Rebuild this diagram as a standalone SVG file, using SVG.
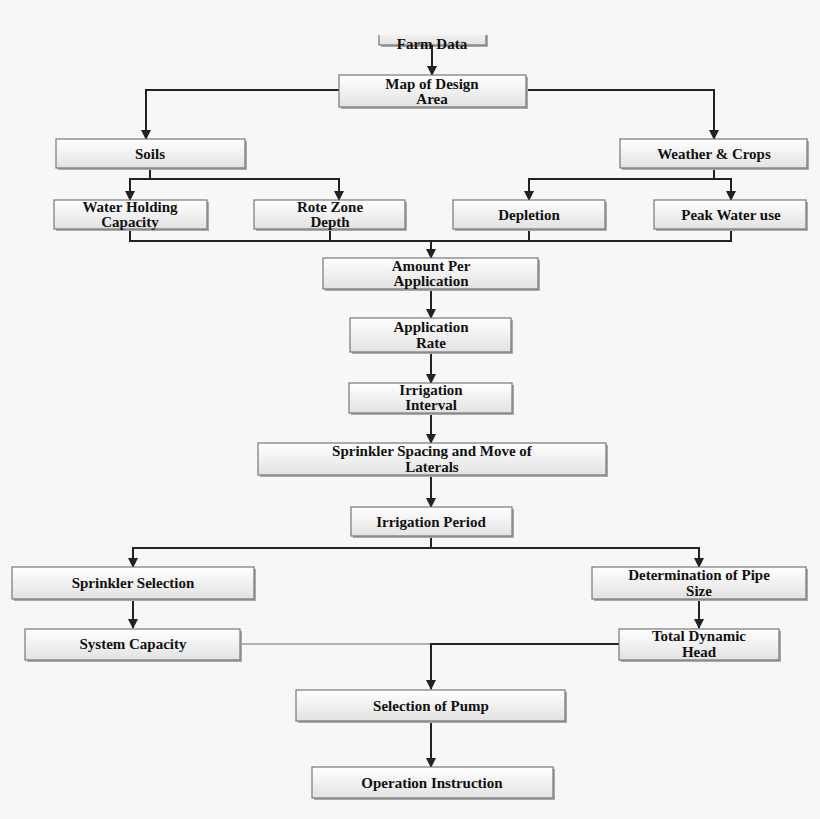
<svg xmlns="http://www.w3.org/2000/svg" width="820" height="819" viewBox="0 0 820 819">
<defs>
<linearGradient id="g" x1="0" y1="0" x2="0" y2="1"><stop offset="0" stop-color="#ffffff"/><stop offset="1" stop-color="#e2e2e2"/></linearGradient>
<marker id="a" markerWidth="10" markerHeight="10" refX="9" refY="5" orient="auto" markerUnits="userSpaceOnUse"><path d="M0,0 L10,5 L0,10 z" fill="#222"/></marker>
</defs>
<style>
rect.b{fill:url(#g);stroke:#777;stroke-width:1.2}
rect.s{fill:#aaa}
text{font-family:"Liberation Serif",serif;font-weight:bold;font-size:15px;fill:#111;text-anchor:middle}
.c path{fill:none;stroke:#222;stroke-width:2}
</style>
<rect width="820" height="819" fill="#f7f7f7"/>
<g id="farm"><rect class="s" x="381" y="28" width="107" height="19"/><rect class="b" x="379" y="26" width="107" height="19"/><text x="432" y="49">Farm Data</text><rect x="370" y="0" width="130" height="35" fill="#f7f7f7"/></g>
<g class="c" id="connectors">
<path d="M432,45 V75" marker-end="url(#a)"/>
<path d="M339,90 H146 V139" marker-end="url(#a)"/>
<path d="M526,90 H714 V139" marker-end="url(#a)"/>
<path d="M150,168 V179 H130 V200" marker-end="url(#a)"/>
<path d="M150,179 H339 V200" marker-end="url(#a)"/>
<path d="M714,168 V179 H529 V200" marker-end="url(#a)"/>
<path d="M714,179 H731 V200" marker-end="url(#a)"/>
<path d="M130,229 V241 H731 V229 M330,229 V241 M529,229 V241"/>
<path d="M431,241 V258" marker-end="url(#a)"/>
<path d="M431,289 V318" marker-end="url(#a)"/>
<path d="M431,352 V383" marker-end="url(#a)"/>
<path d="M431,413 V443" marker-end="url(#a)"/>
<path d="M431,475 V507" marker-end="url(#a)"/>
<path d="M431,536 V548 H133 V567" marker-end="url(#a)"/>
<path d="M431,548 H699 V567" marker-end="url(#a)"/>
<path d="M133,599 V628" marker-end="url(#a)"/>
<path d="M699,599 V628" marker-end="url(#a)"/>
<path d="M240,644 H431" style="stroke:#999;stroke-width:1.5"/>
<path d="M619,644 H431 V689" marker-end="url(#a)"/>
<path d="M431,721 V767" marker-end="url(#a)"/>
</g>
<g id="map"><rect class="s" x="341" y="77" width="187" height="32"/><rect class="b" x="339" y="75" width="187" height="32"/><text x="432" y="89">Map of Design</text><text x="432" y="104">Area</text></g>
<g id="soils"><rect class="s" x="58" y="141" width="189" height="29"/><rect class="b" x="56" y="139" width="189" height="29"/><text x="150" y="159">Soils</text></g>
<g id="weather"><rect class="s" x="622" y="141" width="187" height="29"/><rect class="b" x="620" y="139" width="187" height="29"/><text x="714" y="159">Weather &amp; Crops</text></g>
<g id="whc"><rect class="s" x="56" y="202" width="153" height="29"/><rect class="b" x="54" y="200" width="153" height="29"/><text x="130" y="212">Water Holding</text><text x="130" y="227">Capacity</text></g>
<g id="rote"><rect class="s" x="256" y="202" width="151" height="29"/><rect class="b" x="254" y="200" width="151" height="29"/><text x="330" y="212">Rote Zone</text><text x="330" y="227">Depth</text></g>
<g id="depletion"><rect class="s" x="455" y="202" width="152" height="29"/><rect class="b" x="453" y="200" width="152" height="29"/><text x="529" y="220">Depletion</text></g>
<g id="peak"><rect class="s" x="656" y="202" width="152" height="29"/><rect class="b" x="654" y="200" width="152" height="29"/><text x="731" y="220">Peak Water use</text></g>
<g id="amount"><rect class="s" x="325" y="260" width="215" height="31"/><rect class="b" x="323" y="258" width="215" height="31"/><text x="431" y="271">Amount Per</text><text x="431" y="286">Application</text></g>
<g id="rate"><rect class="s" x="352" y="320" width="161" height="34"/><rect class="b" x="350" y="318" width="161" height="34"/><text x="431" y="332">Application</text><text x="431" y="348">Rate</text></g>
<g id="interval"><rect class="s" x="351" y="385" width="163" height="30"/><rect class="b" x="349" y="383" width="163" height="30"/><text x="431" y="395">Irrigation</text><text x="431" y="410">Interval</text></g>
<g id="spacing"><rect class="s" x="260" y="445" width="348" height="32"/><rect class="b" x="258" y="443" width="348" height="32"/><text x="432" y="456">Sprinkler Spacing and Move of</text><text x="432" y="472">Laterals</text></g>
<g id="period"><rect class="s" x="353" y="509" width="161" height="29"/><rect class="b" x="351" y="507" width="161" height="29"/><text x="431" y="527">Irrigation Period</text></g>
<g id="sprsel"><rect class="s" x="14" y="569" width="242" height="32"/><rect class="b" x="12" y="567" width="242" height="32"/><text x="133" y="588">Sprinkler Selection</text></g>
<g id="pipe"><rect class="s" x="594" y="569" width="214" height="32"/><rect class="b" x="592" y="567" width="214" height="32"/><text x="699" y="580">Determination of Pipe</text><text x="699" y="596">Size</text></g>
<g id="syscap"><rect class="s" x="27" y="631" width="215" height="31"/><rect class="b" x="25" y="629" width="215" height="31"/><text x="133" y="649">System Capacity</text></g>
<g id="tdh"><rect class="s" x="621" y="631" width="160" height="31"/><rect class="b" x="619" y="629" width="160" height="31"/><text x="699" y="641">Total Dynamic</text><text x="699" y="657">Head</text></g>
<g id="pump"><rect class="s" x="298" y="692" width="269" height="31"/><rect class="b" x="296" y="690" width="269" height="31"/><text x="431" y="711">Selection of Pump</text></g>
<g id="operation"><rect class="s" x="314" y="769" width="241" height="31"/><rect class="b" x="312" y="767" width="241" height="31"/><text x="432" y="788">Operation Instruction</text></g>
</svg>
